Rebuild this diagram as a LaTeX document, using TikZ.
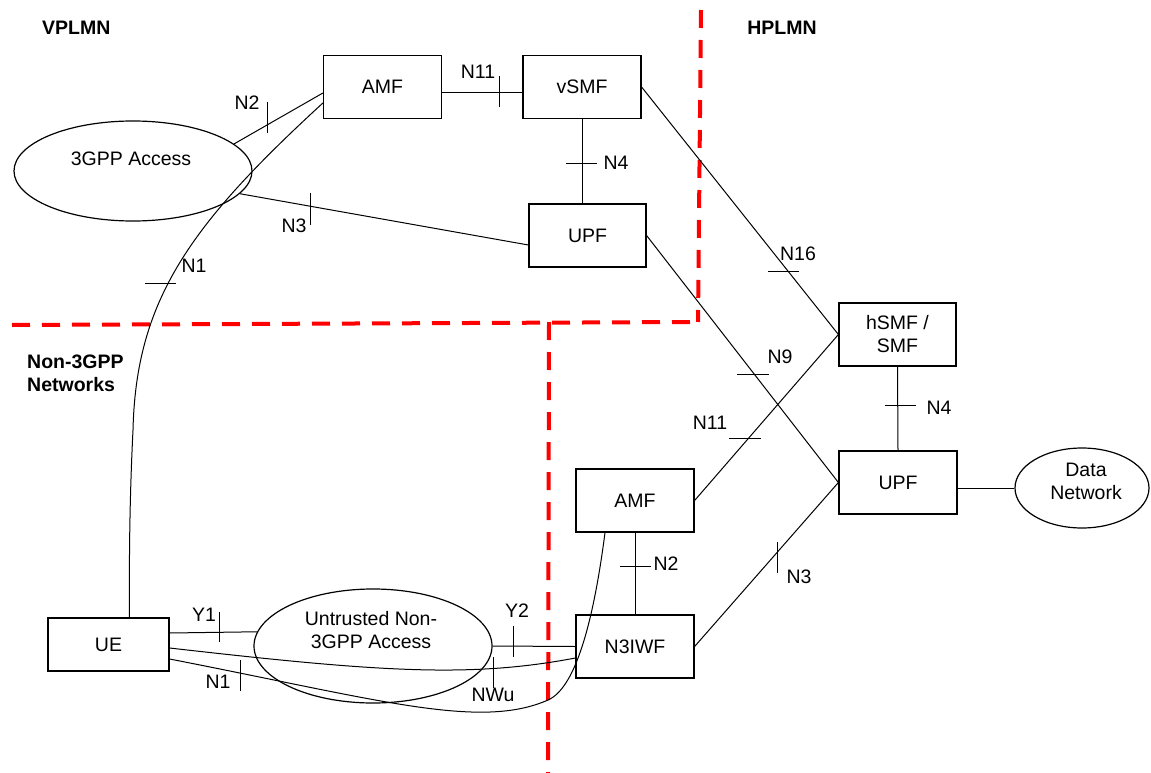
\documentclass[tikz,border=0pt]{standalone}
\usepackage{fontspec}
\setmainfont{Liberation Sans}
\usetikzlibrary{shapes.geometric}
\begin{document}
\begin{tikzpicture}[x=1pt,y=-1pt,
  font=\fontsize{19.5}{23}\selectfont,
  box/.style={draw, line width=1.2pt, minimum width=118pt, minimum height=63pt, inner sep=0pt},
  cloud/.style={ellipse, draw, line width=1.2pt, inner sep=0pt},
  link/.style={line width=1pt},
  tick/.style={line width=1pt},
  border/.style={draw=red, line width=4pt, dash pattern=on 18pt off 12pt},
  lbl/.style={inner sep=0pt},
  region/.style={font=\fontsize{19.5}{23}\selectfont\bfseries, inner sep=0pt, align=left}]
\useasboundingbox (0,0) rectangle (1151,773);

% red region borders
\draw[border] (701,10) -- (698,322);
\draw[border] (12,325) -- (697,322);
\draw[border] (549,322) -- (548,773);

% region labels
\node[region, anchor=west] (vplmn) at (42,28) {VPLMN};
\node[region] (hplmn) at (782,28) {HPLMN};
\node[region, anchor=west] (non3gpp) at (27,373.5) {Non-3GPP\\Networks};

% nodes
\node[box] (amf1) at (382.5,87) {AMF};
\node[box] (vsmf) at (582,87) {vSMF};
\node[box, minimum width=117pt] (upf1) at (587.5,235.5) {UPF};
\node[box, minimum width=117pt, align=center] (hsmf) at (897.5,334.5) {hSMF /\\SMF};
\node[box] (upf2) at (898,482.5) {UPF};
\node[box] (amf2) at (635,500.5) {AMF};
\node[box] (n3iwf) at (635,646.5) {N3IWF};
\node[box, minimum width=121pt, minimum height=53pt] (ue) at (108.5,644.5) {UE};
\node[cloud, minimum width=238pt, minimum height=100pt] (acc) at (133,171) {};
\node[lbl] (acctext) at (131,159) {3GPP Access};
\node[cloud, minimum width=238pt, minimum height=114pt] (untr) at (373,646) {};
\node[lbl, align=center] (untrtext) at (371,630.5) {Untrusted Non-\\3GPP Access};
\node[cloud, minimum width=134pt, minimum height=80pt] (dn) at (1082,488) {};
\node[lbl, align=center] (dntext) at (1086,481.5) {Data\\Network};

% connectors
\draw[link] (acc.15.8) -- ([yshift=-6pt]amf1.west);
\draw[link] ([yshift=-16pt]amf1.west) .. controls (190,225) and (136,300) .. (133,430)
            .. controls (130,490) and (129,550) .. ([xshift=21pt]ue.north);
\draw[link] ([yshift=-6pt]amf1.east) -- ([yshift=-6pt]vsmf.west);
\draw[link] (acc.-12.1) -- ([yshift=-9.5pt]upf1.west);
\draw[link] (vsmf.south) -- (vsmf.south |- upf1.north);
\draw[link] (vsmf.east) -- (hsmf.west);
\draw[link] (upf1.east) -- (upf2.west);
\draw[link] (amf2.east) -- (hsmf.west);
\draw[link] (hsmf.south) -- (upf2.north);
\draw[link] (upf2.east |- dn.west) -- (dn.west);
\draw[link] (n3iwf.east) -- (upf2.west);
\draw[link] (amf2.south) -- (n3iwf.north);
\draw[link] (untr.east) -- (n3iwf.west);
\draw[link] ([yshift=11.5pt]ue.east) -- (untr.173.6);
\draw[link] ([yshift=-3.5pt]ue.east) .. controls (380,672) and (470,678) .. ([yshift=-11.5pt]n3iwf.west);
\draw[link] ([yshift=-14.5pt]ue.east) .. controls (380,700) and (480,730) .. (548,700)
            .. controls (578,687) and (595,610) .. ([xshift=-30pt]amf2.south);

% reference point ticks
\draw[tick] (267,102) -- (267,133);
\draw[tick] (145,283) -- (176,283);
\draw[tick] (499,76) -- (499,107);
\draw[tick] (310,193) -- (310,225);
\draw[tick] (566,163) -- (597,163);
\draw[tick] (768,271) -- (799,271);
\draw[tick] (737,374) -- (769,374);
\draw[tick] (729,438) -- (761,438);
\draw[tick] (885,405) -- (916,405);
\draw[tick] (777,542) -- (777,573);
\draw[tick] (620,566) -- (651,566);
\draw[tick] (513,626) -- (513,657);
\draw[tick] (219,612) -- (219,642);
\draw[tick] (493,657) -- (493,688);
\draw[tick] (240,660) -- (240,691);

% reference point labels
\node[lbl] (ln2a) at (247,103) {N2};
\node[lbl] (ln1a) at (194,266) {N1};
\node[lbl] (ln11a) at (478,72) {N11};
\node[lbl] (ln3a) at (294,226) {N3};
\node[lbl] (ln4a) at (616,163) {N4};
\node[lbl] (ln16) at (798,254) {N16};
\node[lbl] (ln9) at (780,357) {N9};
\node[lbl] (ln11b) at (710,423) {N11};
\node[lbl] (ln4b) at (939,408) {N4};
\node[lbl] (ln3b) at (799,577) {N3};
\node[lbl] (ln2b) at (666,564) {N2};
\node[lbl] (ly2) at (517,611) {Y2};
\node[lbl] (ly1) at (204,615) {Y1};
\node[lbl] (lnwu) at (493,695) {NWu};
\node[lbl] (ln1b) at (218,682) {N1};
\end{tikzpicture}
\end{document}
